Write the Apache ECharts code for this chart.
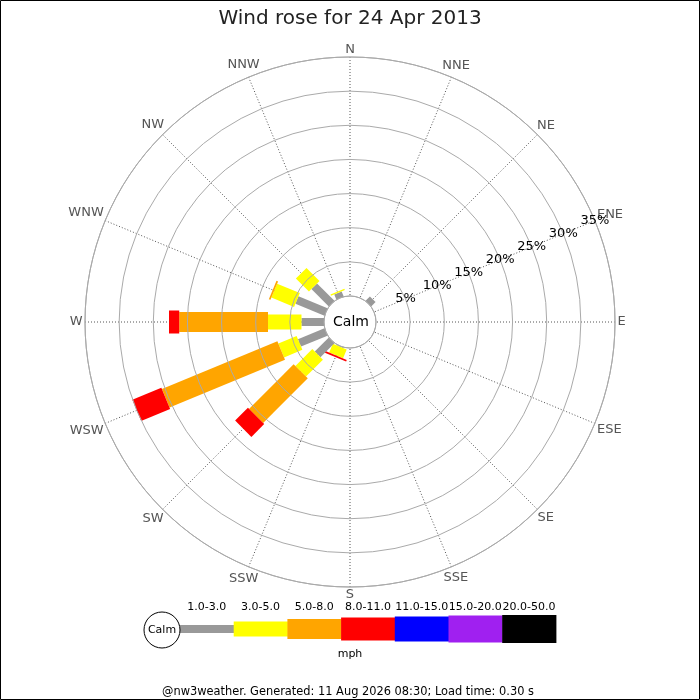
<!DOCTYPE html>
<html>
<head>
<meta charset="utf-8">
<title>Wind rose</title>
<script src="https://cdn.jsdelivr.net/npm/echarts@6/dist/echarts.min.js"></script>
</head>
<body style="margin:0;">
<div id="main" style="width:700px;height:700px;"></div>
<script type="text/javascript">
// compass points, clockwise from north
var directions = ['N', 'NNE', 'NE', 'ENE', 'E', 'ESE', 'SE', 'SSE',
                  'S', 'SSW', 'SW', 'WSW', 'W', 'WNW', 'NW', 'NNW'];
// speed bands (mph)
var bandLabels = ['1.0-3.0', '3.0-5.0', '5.0-8.0', '8.0-11.0', '11.0-15.0', '15.0-20.0', '20.0-50.0'];
var bandColors = ['#999999', '#ffff00', '#ffa500', '#ff0000', '#0000ff', '#a020f0', '#000000'];
var bandWidths = [8, 15, 20, 23, 25, 27, 28];
// percent of time per direction, one list per band
var band1to3   = [0, 0, 0.9, 0, 0, 0, 0, 0, 0, 0.1, 2.9, 4.2, 3.3, 4.6, 3.6, 0.8];
var band3to5   = [0, 0, 0, 0, 0, 0, 0, 0, 0, 1.4, 3.5, 2.9, 4.9, 3.6, 2.7, 0.2];
var band5to8   = [0, 0, 0, 0, 0, 0, 0, 0, 0, 0, 9.25, 18.3, 13.0, 0.25, 0, 0];
var band8to11  = [0, 0, 0, 0, 0, 0, 0, 0, 0, 0.25, 2.65, 4.6, 1.5, 0, 0, 0];
var band11to15 = [0, 0, 0, 0, 0, 0, 0, 0, 0, 0, 0, 0, 0, 0, 0, 0];
var band15to20 = [0, 0, 0, 0, 0, 0, 0, 0, 0, 0, 0, 0, 0, 0, 0, 0];
var band20to50 = [0, 0, 0, 0, 0, 0, 0, 0, 0, 0, 0, 0, 0, 0, 0, 0];
var ringTicks = [0, 5, 10, 15, 20, 25, 30, 35];
var titleText = 'Wind rose for 24 Apr 2013';
var footerText = '@nw3weather. Generated: 11 Aug 2026 08:30; Load time: 0.30 s';

var bands = [band1to3, band3to5, band5to8, band8to11, band11to15, band15to20, band20to50];
var font = 'DejaVu Sans';
var ringMax = ringTicks[ringTicks.length - 1];

// angle axis runs from ENE (where the % labels sit) all the way round
var angMin = 67.5;
function toAxisAngle(deg) { return deg < angMin ? deg + 360 : deg; }

// stacked pieces: [from%, to%, angle, band]
var pieces = [];
for (var d = 0; d < directions.length; d++) {
    var acc = 0;
    for (var b = 0; b < bands.length; b++) {
        var v = bands[b][d];
        if (v > 0) {
            pieces.push([acc, acc + v, toAxisAngle(d * 22.5), b]);
            acc += v;
        }
    }
}
// compass labels sit just outside the outer ring
var dirLabelData = directions.map(function (name, i) {
    return [ringMax, toAxisAngle(i * 22.5), i];
});

function renderPiece(params, api) {
    var r0 = api.value(0), r1 = api.value(1), a = api.value(2), b = api.value(3);
    var p0 = api.coord([r0, a]);
    var p1 = api.coord([r1, a]);
    var dx = p1[0] - p0[0], dy = p1[1] - p0[1];
    var len = Math.sqrt(dx * dx + dy * dy) || 1;
    var hw = bandWidths[b] / 2;
    var nx = -dy / len * hw, ny = dx / len * hw;
    return {
        type: 'polygon',
        shape: {
            points: [
                [p0[0] + nx, p0[1] + ny],
                [p1[0] + nx, p1[1] + ny],
                [p1[0] - nx, p1[1] - ny],
                [p0[0] - nx, p0[1] - ny]
            ]
        },
        style: { fill: bandColors[b], stroke: null }
    };
}

var measureCtx = document.createElement('canvas').getContext('2d');
var dirFont = '13px "DejaVu Sans"';
measureCtx.font = dirFont;

function renderDirLabel(params, api) {
    var a = api.value(1), idx = api.value(2);
    var text = directions[idx];
    var pIn = api.coord([0, a]);
    var pOut = api.coord([api.value(0), a]);
    var ux = pOut[0] - pIn[0], uy = pOut[1] - pIn[1];
    var len = Math.sqrt(ux * ux + uy * uy) || 1;
    ux /= len; uy /= len;
    var hw = measureCtx.measureText(text).width / 2, hh = 4.8;
    var off = 2.5 + hw * Math.abs(ux) + hh * Math.abs(uy);
    return {
        type: 'text',
        x: pOut[0] + ux * off,
        y: pOut[1] + uy * off,
        style: { text: text, font: dirFont, fill: '#555', align: 'center', verticalAlign: 'middle' }
    };
}

// legend along the bottom
var legendGraphics = [];
var segW = 53.7, segX0 = 180, legY = 629;
legendGraphics.push({
    type: 'circle', shape: { cx: 162, cy: 630, r: 18 },
    style: { fill: '#fff', stroke: '#000', lineWidth: 1 }, z: 10
});
legendGraphics.push({
    type: 'text', x: 162, y: 630, z: 11,
    style: { text: 'Calm', font: '11px "DejaVu Sans"', fill: '#000', align: 'center', verticalAlign: 'middle' }
});
for (var i = 0; i < bandLabels.length; i++) {
    var x = segX0 + i * segW;
    legendGraphics.push({
        type: 'rect', z: 5,
        shape: { x: x, y: legY - bandWidths[i] / 2, width: segW + 0.5, height: bandWidths[i] },
        style: { fill: bandColors[i] }
    });
    legendGraphics.push({
        type: 'text', x: x + segW / 2, y: 607, z: 5,
        style: { text: bandLabels[i], font: '11px "DejaVu Sans"', fill: '#000', align: 'center', verticalAlign: 'middle' }
    });
}
legendGraphics.push({
    type: 'text', x: 350, y: 654,
    style: { text: 'mph', font: '11px "DejaVu Sans"', fill: '#000', align: 'center', verticalAlign: 'middle' }
});
legendGraphics.push({
    type: 'text', x: 348, y: 692,
    style: { text: footerText, font: '11.4px "DejaVu Sans"', fill: '#000', align: 'center', verticalAlign: 'middle' }
});
legendGraphics.push({
    type: 'text', x: 351, y: 322, z: 20,
    style: { text: 'Calm', font: '14px "DejaVu Sans"', fill: '#000', align: 'center', verticalAlign: 'middle' }
});
legendGraphics.push({
    type: 'rect', shape: { x: 0.5, y: 0.5, width: 699, height: 699 },
    style: { fill: 'none', stroke: '#000', lineWidth: 1 }, z: 30
});

var myChart = echarts.init(document.getElementById('main'));
var option = {
    backgroundColor: '#fff',
    animation: false,
    textStyle: { fontFamily: font },
    title: {
        text: titleText,
        left: 'center',
        top: 4,
        textStyle: { fontFamily: font, fontSize: 20, fontWeight: 'normal', color: '#222' }
    },
    polar: {
        center: [350, 322],
        radius: [26, 265]
    },
    angleAxis: {
        type: 'value',
        min: angMin,
        max: angMin + 360,
        interval: 22.5,
        startAngle: 22.5,
        clockwise: true,
        axisLine: { show: true, lineStyle: { color: '#aaa', width: 1 } },
        axisTick: { show: false },
        axisLabel: { show: false },
        splitLine: { show: true, lineStyle: { color: '#555', width: 1, type: [1, 2] } }
    },
    radiusAxis: {
        type: 'value',
        min: ringTicks[0],
        max: ringMax,
        interval: 5,
        axisLine: { show: false },
        axisTick: { show: false },
        axisLabel: {
            margin: 0,
            align: 'center',
            verticalAlign: 'middle',
            color: '#000',
            fontSize: 13,
            fontFamily: font,
            formatter: function (v) { return v === 0 ? '' : v + '%'; }
        },
        splitLine: { show: true, lineStyle: { color: '#aaa', width: 1 } },
        z: 10
    },
    series: [{
        type: 'custom',
        coordinateSystem: 'polar',
        dimensions: ['from', 'to', 'angle', 'band'],
        encode: { radius: [0, 1], angle: 2 },
        renderItem: renderPiece,
        data: pieces,
        clip: false,
        z: 5
    }, {
        type: 'custom',
        coordinateSystem: 'polar',
        dimensions: ['radius', 'angle', 'dir'],
        encode: { radius: 0, angle: 1 },
        renderItem: renderDirLabel,
        data: dirLabelData,
        clip: false,
        silent: true,
        z: 6
    }],
    graphic: legendGraphics
};
myChart.setOption(option);
</script>
</body>
</html>
